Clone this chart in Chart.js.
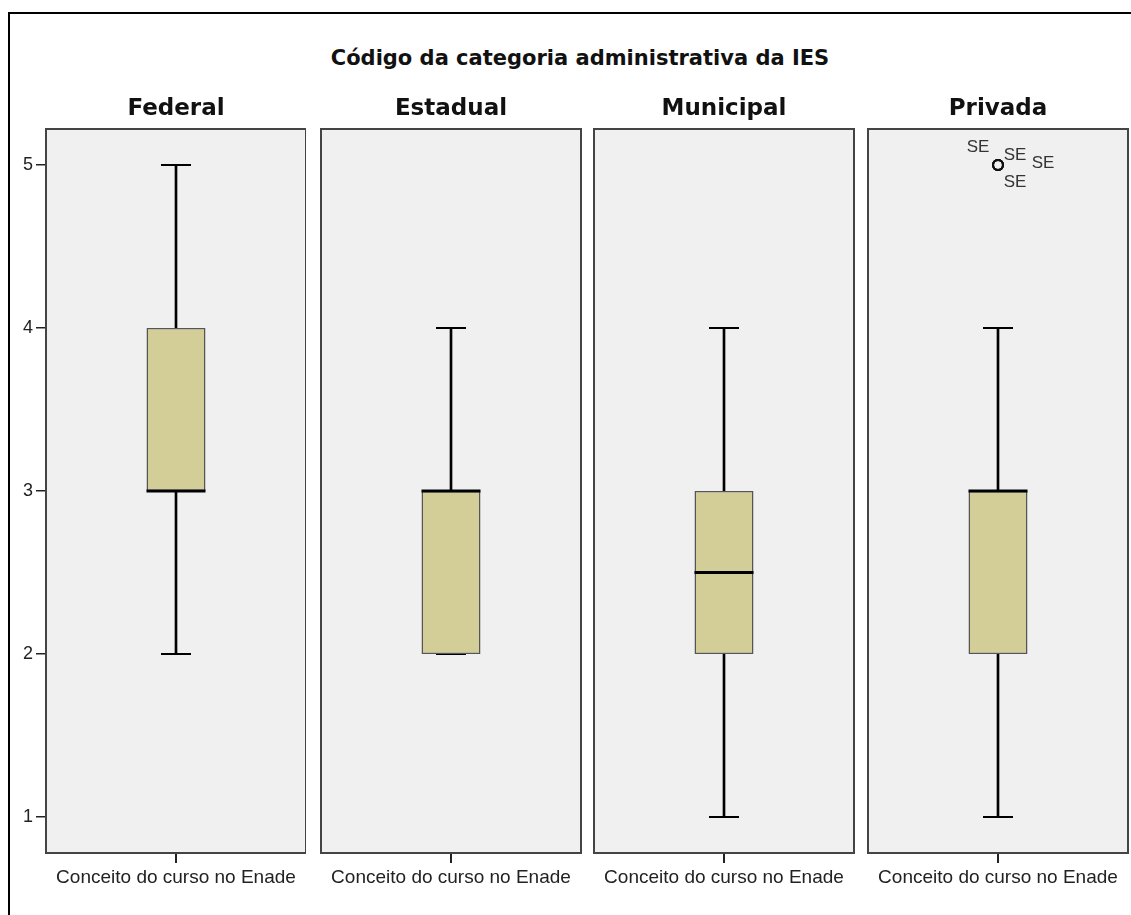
<!DOCTYPE html>
<html>
<head>
<meta charset="utf-8">
<script src="https://cdn.jsdelivr.net/npm/chart.js@4"></script>
<style>
  body { margin: 0; background: #fff; width: 1131px; height: 915px; overflow: hidden; position: relative; }
  #frame { position: absolute; left: 8px; top: 12px; width: 1140px; height: 930px; border: 2px solid #000; box-sizing: border-box; }
  .title { position: absolute; font-family: "DejaVu Sans", sans-serif; font-weight: bold; color: #111; text-align: center; line-height: 26px; white-space: nowrap; }
  #main-title { left: 0; width: 1160px; top: 45px; font-size: 21px; }
  .panel-title { width: 260px; top: 94px; font-size: 23px; }
  .holder { position: absolute; top: 110px; height: 800px; }
</style>
</head>
<body>
<div id="frame"></div>
<div id="main-title" class="title">Código da categoria administrativa da IES</div>
<div id="panels"></div>

<script>
// DATA
const categories = ["Federal", "Estadual", "Municipal", "Privada"];
const axisLabel = "Conceito do curso no Enade";
const yTicks = [1, 2, 3, 4, 5];
const mins = [2, 2, 1, 1];
const q1s = [3, 2, 2, 2];
const medians = [3, 3, 2.5, 3];
const q3s = [4, 3, 3, 3];
const maxs = [5, 4, 4, 4];
const outliers = [[], [], [], [5, 5, 5, 5]];
const outlierLabels = [[], [], [], ["SE", "SE", "SE", "SE"]];

// LAYOUT
const panelLefts = [46, 321, 594, 868];
const panelWidth = 260;
const labelOffsets = [[-20, -18], [17, -10], [45, -2], [17, 17]];
const boxColor = "#d3ce97";
const sans = "'Liberation Sans', Arial, sans-serif";

// PANEL BACKGROUND + BORDER
const panelPlugin = {
  id: "panel",
  beforeDatasetsDraw(chart) {
    const { ctx, chartArea: a } = chart;
    ctx.save();
    ctx.fillStyle = "#f0f0f0";
    ctx.fillRect(a.left, a.top, a.width, a.height);
    ctx.strokeStyle = "#444";
    ctx.lineWidth = 2;
    ctx.strokeRect(a.left, a.top, a.width, a.height);
    ctx.restore();
  }
};

// OUTLIER LABELS
const outlierLabelPlugin = {
  id: "outlierLabels",
  afterDatasetsDraw(chart) {
    const labels = chart.options.plugins.outlierLabels.labels;
    if (!labels.length) return;
    const idx = chart.data.datasets.findIndex(d => d.id === "outliers");
    const meta = chart.getDatasetMeta(idx);
    const ctx = chart.ctx;
    ctx.save();
    ctx.font = "17px " + sans;
    ctx.fillStyle = "#333";
    ctx.textAlign = "center";
    ctx.textBaseline = "middle";
    meta.data.forEach((p, i) => {
      const o = labelOffsets[i] || [0, 0];
      ctx.fillText(labels[i], p.x + o[0], p.y + o[1]);
    });
    ctx.restore();
  }
};

// DRAW ONE PANEL
function drawPanel(i) {
  const first = i === 0;
  const padL = first ? 0 : 10;
  const padR = first ? 0 : 2;
  const left = first ? 8 : panelLefts[i] - padL;
  const width = first ? panelLefts[0] + panelWidth - 8 : panelWidth + padL + padR;

  const holder = document.createElement("div");
  holder.className = "holder";
  holder.style.left = left + "px";
  holder.style.width = width + "px";
  holder.innerHTML = "<canvas></canvas>";
  document.getElementById("panels").appendChild(holder);

  const head = document.createElement("div");
  head.className = "title panel-title";
  head.style.left = panelLefts[i] + "px";
  head.innerText = categories[i];
  document.body.appendChild(head);

  const pt = y => ({ x: axisLabel, y });

  new Chart(holder.querySelector("canvas"), {
    type: "bar",
    data: {
      labels: [axisLabel],
      datasets: [
        { data: [[mins[i], q1s[i]]], backgroundColor: "#000", barThickness: 2, grouped: false, order: 6 },
        { data: [[q3s[i], maxs[i]]], backgroundColor: "#000", barThickness: 2, grouped: false, order: 6 },
        {
          type: "line", data: [pt(mins[i]), pt(maxs[i])], showLine: false,
          pointStyle: "line", pointRadius: 15, pointBorderWidth: 2, pointBorderColor: "#000", order: 5
        },
        {
          data: [[q1s[i], q3s[i]]], backgroundColor: boxColor, borderColor: "#555", borderWidth: 1.5,
          borderSkipped: false, barPercentage: 59 / 260, categoryPercentage: 1, grouped: false, order: 4
        },
        {
          type: "line", data: [pt(medians[i])], showLine: false,
          pointStyle: "line", pointRadius: 29.5, pointBorderWidth: 3, pointBorderColor: "#000", order: 3
        },
        {
          id: "outliers", type: "line", data: outliers[i].map(pt), showLine: false,
          pointStyle: "circle", pointRadius: 5, pointBorderWidth: 2, pointBorderColor: "#111",
          pointBackgroundColor: "rgba(0,0,0,0)", order: 1
        }
      ]
    },
    options: {
      responsive: true,
      maintainAspectRatio: false,
      animation: false,
      events: [],
      layout: { autoPadding: false, padding: { top: 19, left: padL, right: padR, bottom: 0 } },
      plugins: {
        legend: { display: false },
        tooltip: { enabled: false },
        outlierLabels: { labels: outlierLabels[i] }
      },
      scales: {
        x: {
          type: "category",
          offset: true,
          grid: { offset: false, drawOnChartArea: false, tickLength: 10, color: "#222", lineWidth: 2 },
          border: { display: false },
          ticks: { font: { family: sans, size: 19 }, color: "#222", padding: 3, maxRotation: 0, autoSkip: false },
          afterFit: s => { s.height = 57; }
        },
        y: {
          display: first,
          min: 0.779,
          max: 5.221,
          afterBuildTicks: s => { s.ticks = yTicks.map(v => ({ value: v })); },
          grid: { drawOnChartArea: false, tickLength: 10, color: "#222", lineWidth: 1.5 },
          border: { display: false },
          ticks: { font: { family: sans, size: 18 }, color: "#222", padding: 3 },
          afterFit: s => { s.width = first ? 38 : 0; }
        }
      }
    },
    plugins: [panelPlugin, outlierLabelPlugin]
  });
}

// RUN
categories.forEach((c, i) => drawPanel(i));
</script>
</body>
</html>
